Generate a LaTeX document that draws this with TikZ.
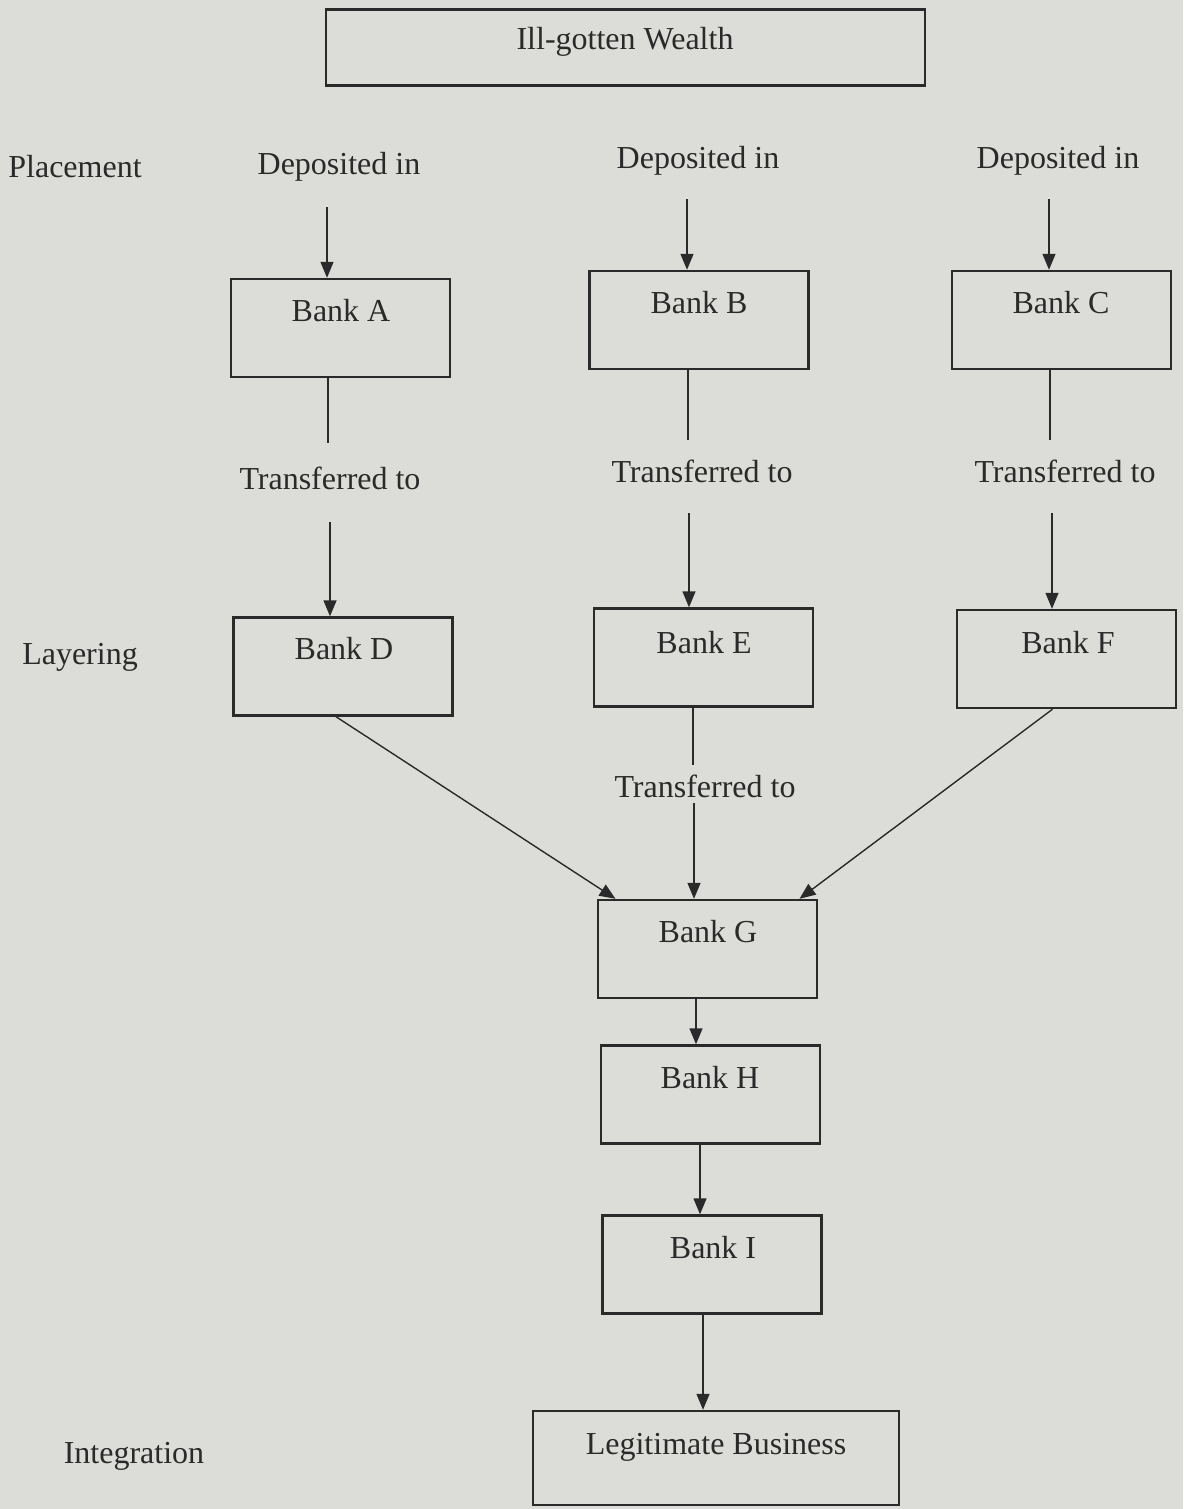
\documentclass[tikz,border=0pt]{standalone}
\usepackage{fontspec}
\setmainfont{Liberation Serif}
\usepackage{tikz}
\usetikzlibrary{positioning, arrows.meta, calc}
\usepackage{xcolor}
\definecolor{paper}{RGB}{220,220,217}
\definecolor{ink}{RGB}{42,42,42}

\begin{document}
\begin{tikzpicture}[x=0.5pt, y=-0.5pt,
  every node/.style={font=\fontsize{16}{19}\selectfont, text=ink, inner sep=0pt, text height=11pt, text depth=3.5pt},
  bank/.style={draw=ink, line width=1.2pt, minimum width=109.5pt, minimum height=49pt, text height=, text depth=},
  flow/.style={draw=ink, line width=0.7pt, -{Triangle[length=8pt,width=6.5pt]}},
  link/.style={draw=ink, line width=0.7pt}]
\useasboundingbox (0,0) rectangle (1183,1509);
\fill[paper] (0,0) rectangle (1183,1509);

% Source
\node[bank, minimum width=299.5pt, minimum height=38pt] (wealth) at (625.5,47.5) {};
\node (wealthTxt) at (625,42) {Ill-gotten Wealth};

% Placement
\node (placement) at (75,170) {Placement};
\node (depA) at (339,167) {Deposited in};
\node (depB) at (698,161) {Deposited in};
\node (depC) at (1058,161) {Deposited in};
\coordinate (inA) at (327,207);
\coordinate (inB) at (687,199);
\coordinate (inC) at (1049,199);

\node[bank] (bankA) at (340.5,328) {};
\node[bank] (bankB) at (699,320) {};
\node[bank] (bankC) at (1061.5,320) {};
\node (txtA) at (341,314) {Bank A};
\node (txtB) at (699,306) {Bank B};
\node (txtC) at (1061,306) {Bank C};

\draw[flow] (inA) -- (inA |- bankA.north);
\draw[flow] (inB) -- (inB |- bankB.north);
\draw[flow] (inC) -- (inC |- bankC.north);

% Transfers to layering banks
\node (trA) at (330,482) {Transferred to};
\node (trB) at (702,475) {Transferred to};
\node (trC) at (1065,475) {Transferred to};
\coordinate (outA) at (328,443);
\coordinate (outB) at (688,440);
\coordinate (outC) at (1050,440);
\coordinate (goA) at (330,522);
\coordinate (goB) at (689,513);
\coordinate (goC) at (1052,513);
\draw[link] (outA |- bankA.south) -- (outA);
\draw[link] (outB |- bankB.south) -- (outB);
\draw[link] (outC |- bankC.south) -- (outC);

% Layering
\node (layering) at (80,657) {Layering};
\node[bank] (bankD) at (343,666.5) {};
\node[bank] (bankE) at (703.5,657.5) {};
\node[bank] (bankF) at (1066.5,659) {};
\node (txtD) at (344,652) {Bank D};
\node (txtE) at (704,646) {Bank E};
\node (txtF) at (1068,646) {Bank F};

\draw[flow] (goA) -- (goA |- bankD.north);
\draw[flow] (goB) -- (goB |- bankE.north);
\draw[flow] (goC) -- (goC |- bankF.north);

\node (trE) at (705,790) {Transferred to};
\coordinate (outE) at (693,765);
\coordinate (goE) at (694,803);
\draw[link] (outE |- bankE.south) -- (outE);

\node[bank] (bankG) at (707.5,949) {};
\node (txtG) at (708,935) {Bank G};
\draw[flow] (goE) -- (goE |- bankG.north);
\draw[flow] ([xshift=-3.5pt]bankD.south) -- ([xshift=-46pt]bankG.north);
\draw[flow] ([xshift=-7pt]bankF.south) -- ([xshift=46pt]bankG.north);

\node[bank] (bankH) at (710.5,1094.5) {};
\node (txtH) at (710,1081) {Bank H};
\node[bank] (bankI) at (712,1264.5) {};
\node (txtI) at (713,1251) {Bank I};

\draw[flow] ([xshift=-5.75pt]bankG.south) -- ([xshift=-7.25pt]bankH.north);
\draw[flow] ([xshift=-5.25pt]bankH.south) -- ([xshift=-6pt]bankI.north);

% Integration
\node (integration) at (134,1456) {Integration};
\node[bank, minimum width=183pt, minimum height=47pt] (legit) at (716,1458) {};
\node (legitTxt) at (716,1447) {Legitimate Business};
\draw[flow] ([xshift=-4.5pt]bankI.south) -- ([xshift=-6.5pt]legit.north);
\end{tikzpicture}
\end{document}
